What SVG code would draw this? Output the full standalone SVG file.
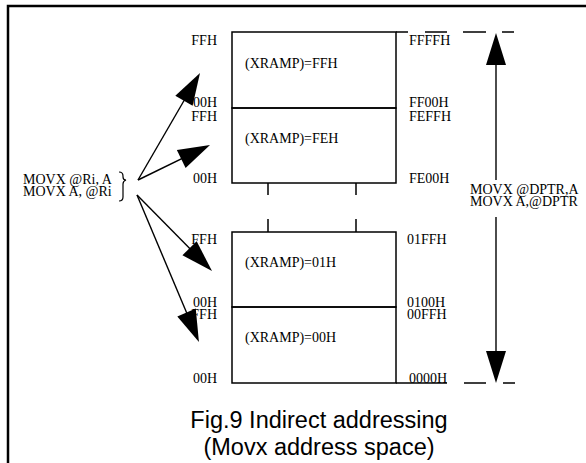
<svg xmlns="http://www.w3.org/2000/svg" width="586" height="463" viewBox="0 0 586 463">
<defs>
<style>
.t{font-family:"Liberation Serif","Times New Roman",serif;font-size:14px;fill:#000}
.c{font-family:"Liberation Sans",Arial,sans-serif;font-size:23.5px;fill:#000}
.b{fill:none;stroke:#000;stroke-width:1.5}
.l{stroke:#000;stroke-width:1.4;fill:none}
</style>
<marker id="ah" markerUnits="userSpaceOnUse" markerWidth="32" markerHeight="20" refX="28" refY="10" orient="auto" overflow="visible">
<path d="M0,0 L32,10 L0,20 Z" fill="#000"/>
</marker>
</defs>
<rect width="586" height="463" fill="#fff"/>
<path d="M8,463 V6 H586" fill="none" stroke="#000" stroke-width="2.5"/>

<g id="bank-ff">
<rect class="b" x="232" y="32" width="164" height="76"/>
<text class="t" x="245" y="68">(XRAMP)=FFH</text>
<text class="t" x="217" y="45" text-anchor="end">FFH</text>
<text class="t" x="217" y="107" text-anchor="end">00H</text>
<text class="t" x="409" y="45">FFFFH</text>
<text class="t" x="409" y="107">FF00H</text>
</g>
<g id="bank-fe">
<rect class="b" x="232" y="108" width="164" height="75"/>
<text class="t" x="245" y="143">(XRAMP)=FEH</text>
<text class="t" x="217" y="121" text-anchor="end">FFH</text>
<text class="t" x="217" y="183" text-anchor="end">00H</text>
<text class="t" x="409" y="121">FEFFH</text>
<text class="t" x="409" y="183">FE00H</text>
</g>
<g id="bank-01">
<rect class="b" x="232" y="232" width="164" height="75"/>
<text class="t" x="245" y="267">(XRAMP)=01H</text>
<text class="t" x="217" y="244" text-anchor="end">FFH</text>
<text class="t" x="217" y="307" text-anchor="end">00H</text>
<text class="t" x="407" y="244">01FFH</text>
<text class="t" x="407" y="307">0100H</text>
</g>
<g id="bank-00">
<rect class="b" x="232" y="307" width="164" height="76"/>
<text class="t" x="245" y="342">(XRAMP)=00H</text>
<text class="t" x="217" y="319" text-anchor="end">FFH</text>
<text class="t" x="217" y="383" text-anchor="end">00H</text>
<text class="t" x="407" y="319">00FFH</text>
<text class="t" x="409" y="383">0000H</text>
</g>

<g id="gap-ticks" class="b">
<path d="M268,183 V195 M356,183 V195 M268,219 V232 M356,219 V232"/>
</g>

<g id="bounds" class="b">
<path d="M396,32 H408 M425,32 H447 M463,32 H486 M502,32 H514"/>
<path d="M396,383 H447 M464,383 H486 M503,383 H515"/>
</g>

<g id="ri-label">
<text class="t" x="23" y="184">MOVX @Ri, A</text>
<text class="t" x="23" y="196">MOVX A, @Ri</text>
<path d="M119,172 Q123,172 123,176 L123,177 Q123,180 126,180 Q123,181 123,184 L123,197 Q123,201 119,201" fill="none" stroke="#000" stroke-width="1.2"/>
</g>

<g id="dptr-label">
<text class="t" x="470" y="194">MOVX @DPTR,A</text>
<text class="t" x="470" y="206">MOVX A,@DPTR</text>
</g>

<g id="connectors" class="l">
<line x1="138" y1="180" x2="198" y2="76.5" marker-end="url(#ah)"/>
<line x1="138" y1="180" x2="206.4" y2="146.7" marker-end="url(#ah)"/>
<line x1="137" y1="195" x2="209.2" y2="268.2" marker-end="url(#ah)"/>
<line x1="137" y1="195" x2="197.4" y2="338.3" marker-end="url(#ah)"/>
<line x1="496" y1="180" x2="496" y2="37" marker-end="url(#ah)"/>
<line x1="496" y1="217" x2="496" y2="379" marker-end="url(#ah)"/>
</g>

<g id="caption">
<text class="c" x="319" y="428" text-anchor="middle">Fig.9 Indirect addressing</text>
<text class="c" x="319" y="455" text-anchor="middle">(Movx address space)</text>
</g>
</svg>
